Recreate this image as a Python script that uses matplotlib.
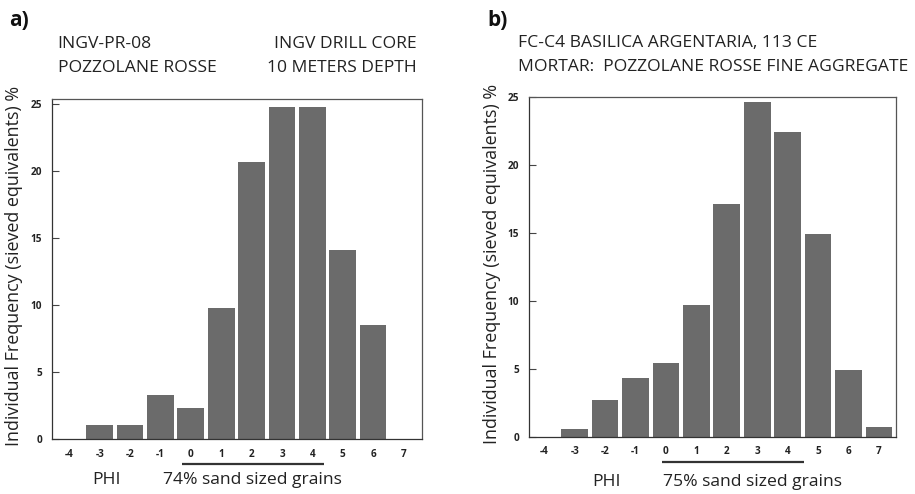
import matplotlib
matplotlib.use("Agg")
import matplotlib.pyplot as plt
import matplotlib.transforms as mtransforms

plt.rcParams['font.family'] = ['Open Sans', 'DejaVu Sans']

# ---- data ----
phi = [-4, -3, -2, -1, 0, 1, 2, 3, 4, 5, 6, 7]
freq_a = [0, 1.1, 1.1, 3.3, 2.3, 9.8, 20.7, 24.8, 24.8, 14.1, 8.5, 0]
freq_b = [0, 0.6, 2.7, 4.3, 5.4, 9.7, 17.1, 24.6, 22.4, 14.9, 4.9, 0.7]
yticks = [0, 5, 10, 15, 20, 25]
sand_range_a = (-0.3, 4.4)
sand_range_b = (-0.14, 4.53)

W, H = 915, 494
fig = plt.figure(figsize=(W / 100, H / 100), dpi=100)

def px(x, y):
    return x / W, 1 - y / H

def make_axes(left, right, top, bottom):
    return fig.add_axes([left / W, 1 - bottom / H, (right - left) / W, (bottom - top) / H])

BAR = '#6b6b6b'
SPINE = '#555555'

def style(ax, xlim, ylim):
    ax.set_xlim(*xlim)
    ax.set_ylim(*ylim)
    ax.set_yticks(yticks)
    ax.set_yticklabels([str(t) for t in yticks], fontsize=7.2, fontweight='bold', color='#222222')
    ax.set_xticks(phi)
    ax.set_xticklabels([str(p) for p in phi], fontsize=7.2, fontweight='bold', color='#222222')
    ax.tick_params(axis='y', direction='in', length=5, width=0.8, color='#444444', pad=7)
    ax.tick_params(axis='x', length=0, pad=7)
    for s in ax.spines.values():
        s.set_color(SPINE)
        s.set_linewidth(0.9)
    ax.spines['left'].set_color('#333333')
    ax.spines['bottom'].set_color('#333333')

# ---- panel a ----
ax1 = make_axes(52, 421.7, 99, 439.3)
ax1.bar(phi, freq_a, width=0.88, color=BAR, edgecolor='none')
style(ax1, (-4.57, 7.6), (0, 25.4))
tr1 = mtransforms.blended_transform_factory(ax1.transData, ax1.transAxes)
ax1.plot(sand_range_a, [-0.0726, -0.0726], transform=tr1, color='#333333', lw=1.6,
         clip_on=False, solid_capstyle='butt')

# ---- panel b ----
ax2 = make_axes(529, 895.7, 96.7, 436.7)
ax2.bar(phi, freq_b, width=0.88, color=BAR, edgecolor='none')
style(ax2, (-4.5, 7.55), (0, 25))
tr2 = mtransforms.blended_transform_factory(ax2.transData, ax2.transAxes)
ax2.plot(sand_range_b, [-0.0735, -0.0735], transform=tr2, color='#333333', lw=1.6,
         clip_on=False, solid_capstyle='butt')

# ---- texts ----
ylab = 'Individual Frequency (sieved equivalents) %'
fig.text(*px(14, 266), ylab, rotation=90, ha='center', va='center', fontsize=12.9, color='#222222')
fig.text(*px(492, 264), ylab, rotation=90, ha='center', va='center', fontsize=12.9, color='#222222')

fig.text(*px(9, 20), 'a)', ha='left', va='center', fontsize=15, fontweight='bold', color='#111111')
fig.text(*px(487, 20), 'b)', ha='left', va='center', fontsize=15, fontweight='bold', color='#111111')

hs = 12.6
fig.text(*px(57.7, 44), 'INGV-PR-08', ha='left', va='center', fontsize=hs, color='#222222')
fig.text(*px(57.7, 68), 'POZZOLANE ROSSE', ha='left', va='center', fontsize=hs, color='#222222')
fig.text(*px(416.7, 44), 'INGV DRILL CORE', ha='right', va='center', fontsize=hs, color='#222222')
fig.text(*px(416.7, 68), '10 METERS DEPTH', ha='right', va='center', fontsize=hs, color='#222222')
fig.text(*px(517.7, 43), 'FC-C4 BASILICA ARGENTARIA, 113 CE', ha='left', va='center', fontsize=hs, color='#222222')
fig.text(*px(517.7, 67), 'MORTAR:  POZZOLANE ROSSE FINE AGGREGATE', ha='left', va='center', fontsize=hs, color='#222222')

bs = 12.6
fig.text(*px(106.7, 480), 'PHI', ha='center', va='center', fontsize=bs, color='#222222')
fig.text(*px(163, 480), '74% sand sized grains', ha='left', va='center', fontsize=bs, color='#222222')
fig.text(*px(606.7, 481.7), 'PHI', ha='center', va='center', fontsize=bs, color='#222222')
fig.text(*px(663.3, 481.7), '75% sand sized grains', ha='left', va='center', fontsize=bs, color='#222222')

fig.savefig('out.png', dpi=100)
